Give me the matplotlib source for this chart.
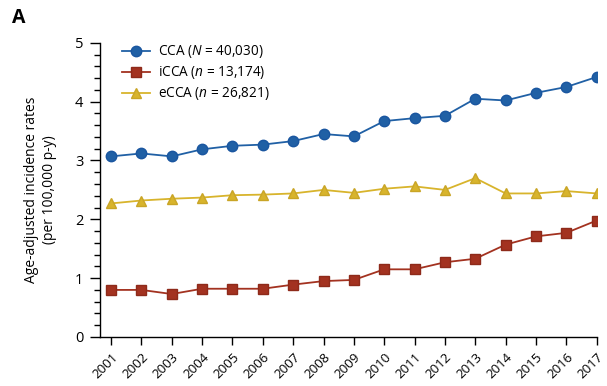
import matplotlib
matplotlib.use('Agg')
import matplotlib.pyplot as plt
from matplotlib.ticker import MultipleLocator

plt.rcParams['font.family'] = ['Open Sans', 'DejaVu Sans']
plt.rcParams['mathtext.fontset'] = 'custom'
plt.rcParams['mathtext.it'] = 'Open Sans:italic'
plt.rcParams['mathtext.rm'] = 'Open Sans'

years = list(range(2001, 2018))
cca = [3.07, 3.12, 3.07, 3.19, 3.25, 3.27, 3.33, 3.45, 3.41, 3.67, 3.72, 3.76,
       4.05, 4.02, 4.15, 4.25, 4.42]
icca = [0.80, 0.80, 0.73, 0.82, 0.82, 0.82, 0.89, 0.95, 0.97, 1.15, 1.15, 1.27,
        1.33, 1.57, 1.71, 1.77, 1.98]
ecca = [2.27, 2.32, 2.35, 2.37, 2.41, 2.42, 2.44, 2.50, 2.45, 2.52, 2.56, 2.50,
        2.70, 2.44, 2.44, 2.48, 2.44]

labels = [r'CCA ($N$ = 40,030)', r'iCCA ($n$ = 13,174)', r'eCCA ($n$ = 26,821)']

fig = plt.figure(figsize=(6.07, 3.86), dpi=100)
ax = fig.add_axes([0.165, 0.127, 0.818, 0.762])

ax.plot(years, cca, color='#2060a5', marker='o', ms=7.5, lw=1.3,
        mec='#1a56a0', label=labels[0])
ax.plot(years, icca, color='#a33220', marker='s', ms=6.5, lw=1.3,
        mec='#8e2a1a', label=labels[1])
ax.plot(years, ecca, color='#d8b42c', marker='^', ms=6.5, lw=1.3,
        mec='#c9a526', label=labels[2])

ax.set_xlim(2000.64, 2017)
ax.set_ylim(0, 5)
ax.set_xticks(years)
ax.set_xticklabels([str(y) for y in years], rotation=45, ha='right',
                   rotation_mode='anchor', fontsize=9.5)
ax.yaxis.set_major_locator(MultipleLocator(1))
ax.yaxis.set_minor_locator(MultipleLocator(0.2))
ax.tick_params(axis='y', which='major', labelsize=10.5, length=7, width=1,
               pad=5)
ax.tick_params(axis='y', which='minor', length=4, width=1)
ax.tick_params(axis='x', length=6, width=1)

for s in ['top', 'right']:
    ax.spines[s].set_visible(False)
for s in ['left', 'bottom']:
    ax.spines[s].set_linewidth(1)

ax.set_ylabel('Age-adjusted incidence rates\n(per 100,000 p-y)', fontsize=10,
              labelpad=13, linespacing=1.25)

ax.legend(loc='upper left', bbox_to_anchor=(0.02, 1.04), frameon=False,
          fontsize=9.8, handlelength=2.0, labelspacing=0.3, handletextpad=0.6)

fig.text(0.02, 0.94, 'A', fontsize=14, fontweight='bold')

fig.savefig('out.png', dpi=100)
